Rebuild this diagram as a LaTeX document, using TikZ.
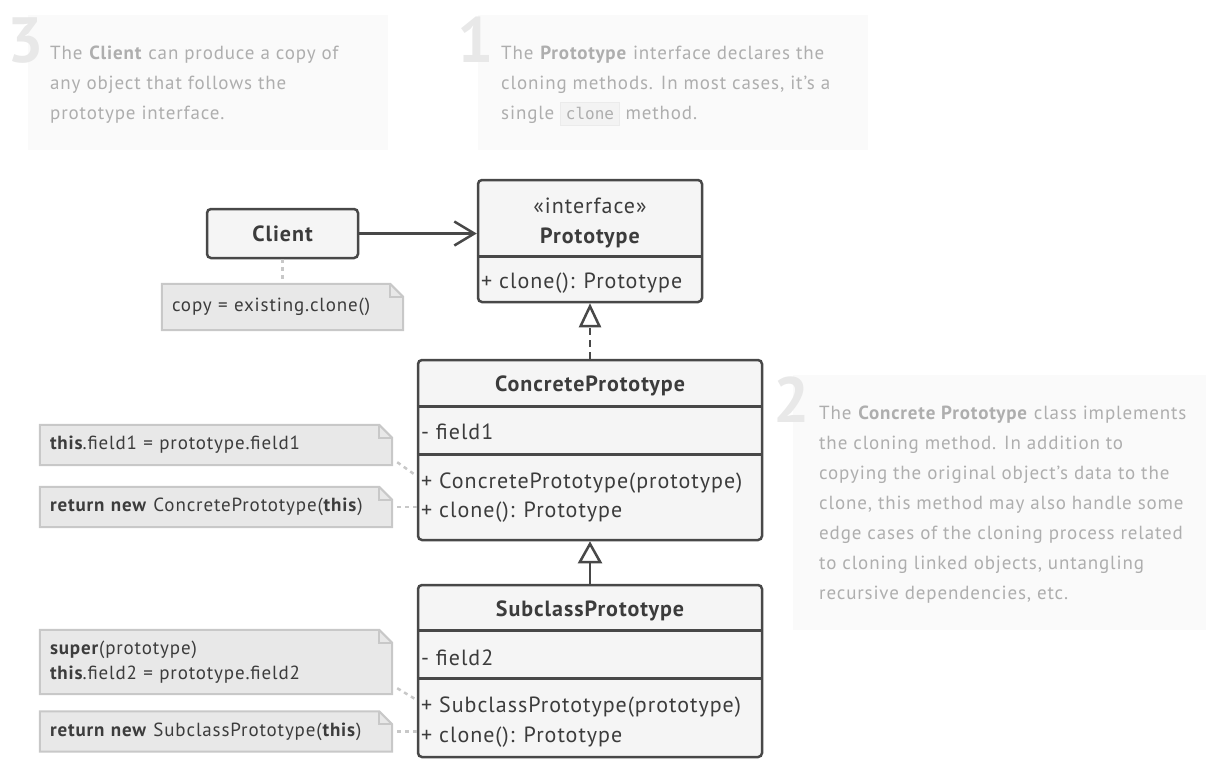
\documentclass[tikz,border=0pt]{standalone}
\usepackage{fontspec}
\setmainfont[LetterSpace=4.5]{PT Sans}
\newfontfamily\umlfont[LetterSpace=4.5]{PT Sans}
\newfontfamily\codefont{DejaVu Sans Mono}
\usetikzlibrary{positioning}
\usetikzlibrary{calc}
\usetikzlibrary{arrows.meta}
\usetikzlibrary{backgrounds}

\definecolor{boxline}{HTML}{484848}
\definecolor{boxfill}{HTML}{F5F5F5}
\definecolor{umlink}{HTML}{3C3C3C}
\definecolor{notefill}{HTML}{E8E8E8}
\definecolor{noteline}{HTML}{C8C8C8}
\definecolor{hintfill}{HTML}{FAFAFA}
\definecolor{hintink}{HTML}{AEAEAE}
\definecolor{hintnum}{HTML}{E8E8E8}
\definecolor{chipfill}{HTML}{F3F3F3}
\definecolor{chipline}{HTML}{EBEBEB}

\newcommand{\codechip}[1]{{\setlength{\fboxsep}{5pt}\setlength{\fboxrule}{0.6pt}\fcolorbox{chipline}{chipfill}{\codefont\fontsize{16}{16}\selectfont #1}}}

\tikzset{
  hintbox/.style={fill=hintfill, inner sep=0pt, anchor=north west},
  hintdigit/.style={font=\bfseries\fontsize{64}{64}\selectfont, text=hintnum, inner sep=0pt, anchor=base east},
  hinttext/.style={font=\fontsize{19}{30}\selectfont, text=hintink, align=left, inner sep=0pt, anchor=north west},
  classbox/.style={draw=boxline, fill=boxfill, line width=2.5pt, rounded corners=4pt, inner sep=0pt},
  divider/.style={draw=boxline, line width=3pt},
  umltext/.style={font=\umlfont\fontsize{22}{28}\selectfont, text=umlink, inner sep=0pt},
  umlbold/.style={umltext, font=\umlfont\bfseries\fontsize{22}{28}\selectfont},
  notebox/.style={font=\umlfont\fontsize{19}{25}\selectfont, text=umlink, align=left, inner xsep=10pt, inner ysep=0pt},
  notebody/.style={draw=noteline, fill=notefill, line width=2pt},
  arrowline/.style={draw=boxline, line width=2.5pt},
  noteconn/.style={draw=noteline, line width=2.5pt, dash pattern=on 4pt off 4pt}
}

\begin{document}
\begin{tikzpicture}[x=1pt, y=-1pt]
  \useasboundingbox (0,0) rectangle (1206,763);

  \node[hintbox, minimum width=360, minimum height=135] (hint3) at (28,15) {};
  \node[hintdigit] (digit3) at (44,62) {3};
  \node[hinttext] (text3) at (50,46) {The \textbf{Client} can produce a copy of\\any object that follows the\\prototype interface.};

  \node[hintbox, minimum width=390, minimum height=135] (hint1) at (478,15) {};
  \node[hintdigit] (digit1) at (494,62) {1};
  \node[hinttext] (text1) at (501,46) {The \textbf{Prototype} interface declares the\\cloning methods. In most cases, it’s a\\single \codechip{clone} method.};

  \node[hintbox, minimum width=413, minimum height=255] (hint2) at (793,375) {};
  \node[hintdigit] (digit2) at (810,422) {2};
  \node[hinttext] (text2) at (819,406) {The \textbf{Concrete Prototype} class implements\\the cloning method. In addition to\\copying the original object’s data to the\\clone, this method may also handle some\\edge cases of the cloning process related\\to cloning linked objects, untangling\\recursive dependencies, etc.};

  \node[classbox, umlbold, minimum width=151, minimum height=49] (client) at (282.5,233.5) {Client};

  \node[classbox, minimum width=224, minimum height=122] (proto) at (590,241) {};
  \draw[divider] ($(proto.north west)+(0,78)$) -- ($(proto.north east)+(0,78)$);
  \node[umltext, anchor=base] (protostereo) at (590,213) {«interface»};
  \node[umlbold, anchor=base] (protoname) at (590,243) {Prototype};
  \node[umltext, anchor=base west] (protoclone) at (481,288) {+ clone(): Prototype};

  \node[classbox, minimum width=344, minimum height=180] (concrete) at (590,450) {};
  \draw[divider] ($(concrete.north west)+(0,48)$) -- ($(concrete.north east)+(0,48)$);
  \draw[divider] ($(concrete.north west)+(0,96)$) -- ($(concrete.north east)+(0,96)$);
  \node[umlbold, anchor=base] (concretename) at (590,391) {ConcretePrototype};
  \node[umltext, anchor=base west] (concretefield) at (421,439) {- field1};
  \node[umltext, anchor=base west] (concretector) at (421,488) {+ ConcretePrototype(prototype)};
  \node[umltext, anchor=base west] (concreteclone) at (421,517) {+ clone(): Prototype};

  \node[classbox, minimum width=344, minimum height=172] (subclass) at (590,671) {};
  \draw[divider] ($(subclass.north west)+(0,47)$) -- ($(subclass.north east)+(0,47)$);
  \draw[divider] ($(subclass.north west)+(0,95)$) -- ($(subclass.north east)+(0,95)$);
  \node[umlbold, anchor=base] (subclassname) at (590,616) {SubclassPrototype};
  \node[umltext, anchor=base west] (subclassfield) at (421,665) {- field2};
  \node[umltext, anchor=base west] (subclassctor) at (421,712) {+ SubclassPrototype(prototype)};
  \node[umltext, anchor=base west] (subclassclone) at (421,742) {+ clone(): Prototype};

  \node[notebox, text width=221, minimum height=46] (copynote) at (282.5,307) {copy = existing.clone()};
  \node[notebox, text width=332, minimum height=40] (note1) at (216,445) {\textbf{this}.field1 = prototype.field1};
  \node[notebox, text width=332, minimum height=40] (note2) at (216,507) {\textbf{return new} ConcretePrototype(\textbf{this})};
  \node[notebox, text width=332, minimum height=64] (note3) at (216,662) {\textbf{super}(prototype)\\\textbf{this}.field2 = prototype.field2};
  \node[notebox, text width=332, minimum height=40] (note4) at (216,731.5) {\textbf{return new} SubclassPrototype(\textbf{this})};

  \begin{scope}[on background layer]
    \foreach \n in {copynote, note1, note2, note3, note4} {
      \draw[notebody] (\n.north west) -- ($(\n.north east)+(-13,0)$) -- ($(\n.north east)+(0,13)$) |- (\n.south west) -- cycle;
      \draw[notebody, fill=none] ($(\n.north east)+(-13,0)$) |- ($(\n.north east)+(0,13)$);
    }
  \end{scope}

  \draw[arrowline, -{Straight Barb[length=20pt, width=24pt]}] (client.east) -- (client.east -| proto.west);
  \draw[arrowline, dash pattern=on 7pt off 5pt, -{Triangle[open, length=24pt, width=22pt]}] (concrete) -- (proto);
  \draw[arrowline, -{Triangle[open, length=22pt, width=24pt]}] (subclass) -- (concrete);

  \draw[noteconn] (client) -- (copynote);
  \draw[noteconn] ($(note1.south east)+(5,-3)$) -- ($(concrete.west)+(0,26)$);
  \draw[noteconn] ($(note2.east)+(5,0)$) -- (note2.east -| concrete.west);
  \draw[noteconn] ($(note3.south east)+(5,-6)$) -- ($(subclass.west)+(0,29)$);
  \draw[noteconn] ($(note4.east)+(5,0)$) -- (note4.east -| subclass.west);
\end{tikzpicture}
\end{document}
